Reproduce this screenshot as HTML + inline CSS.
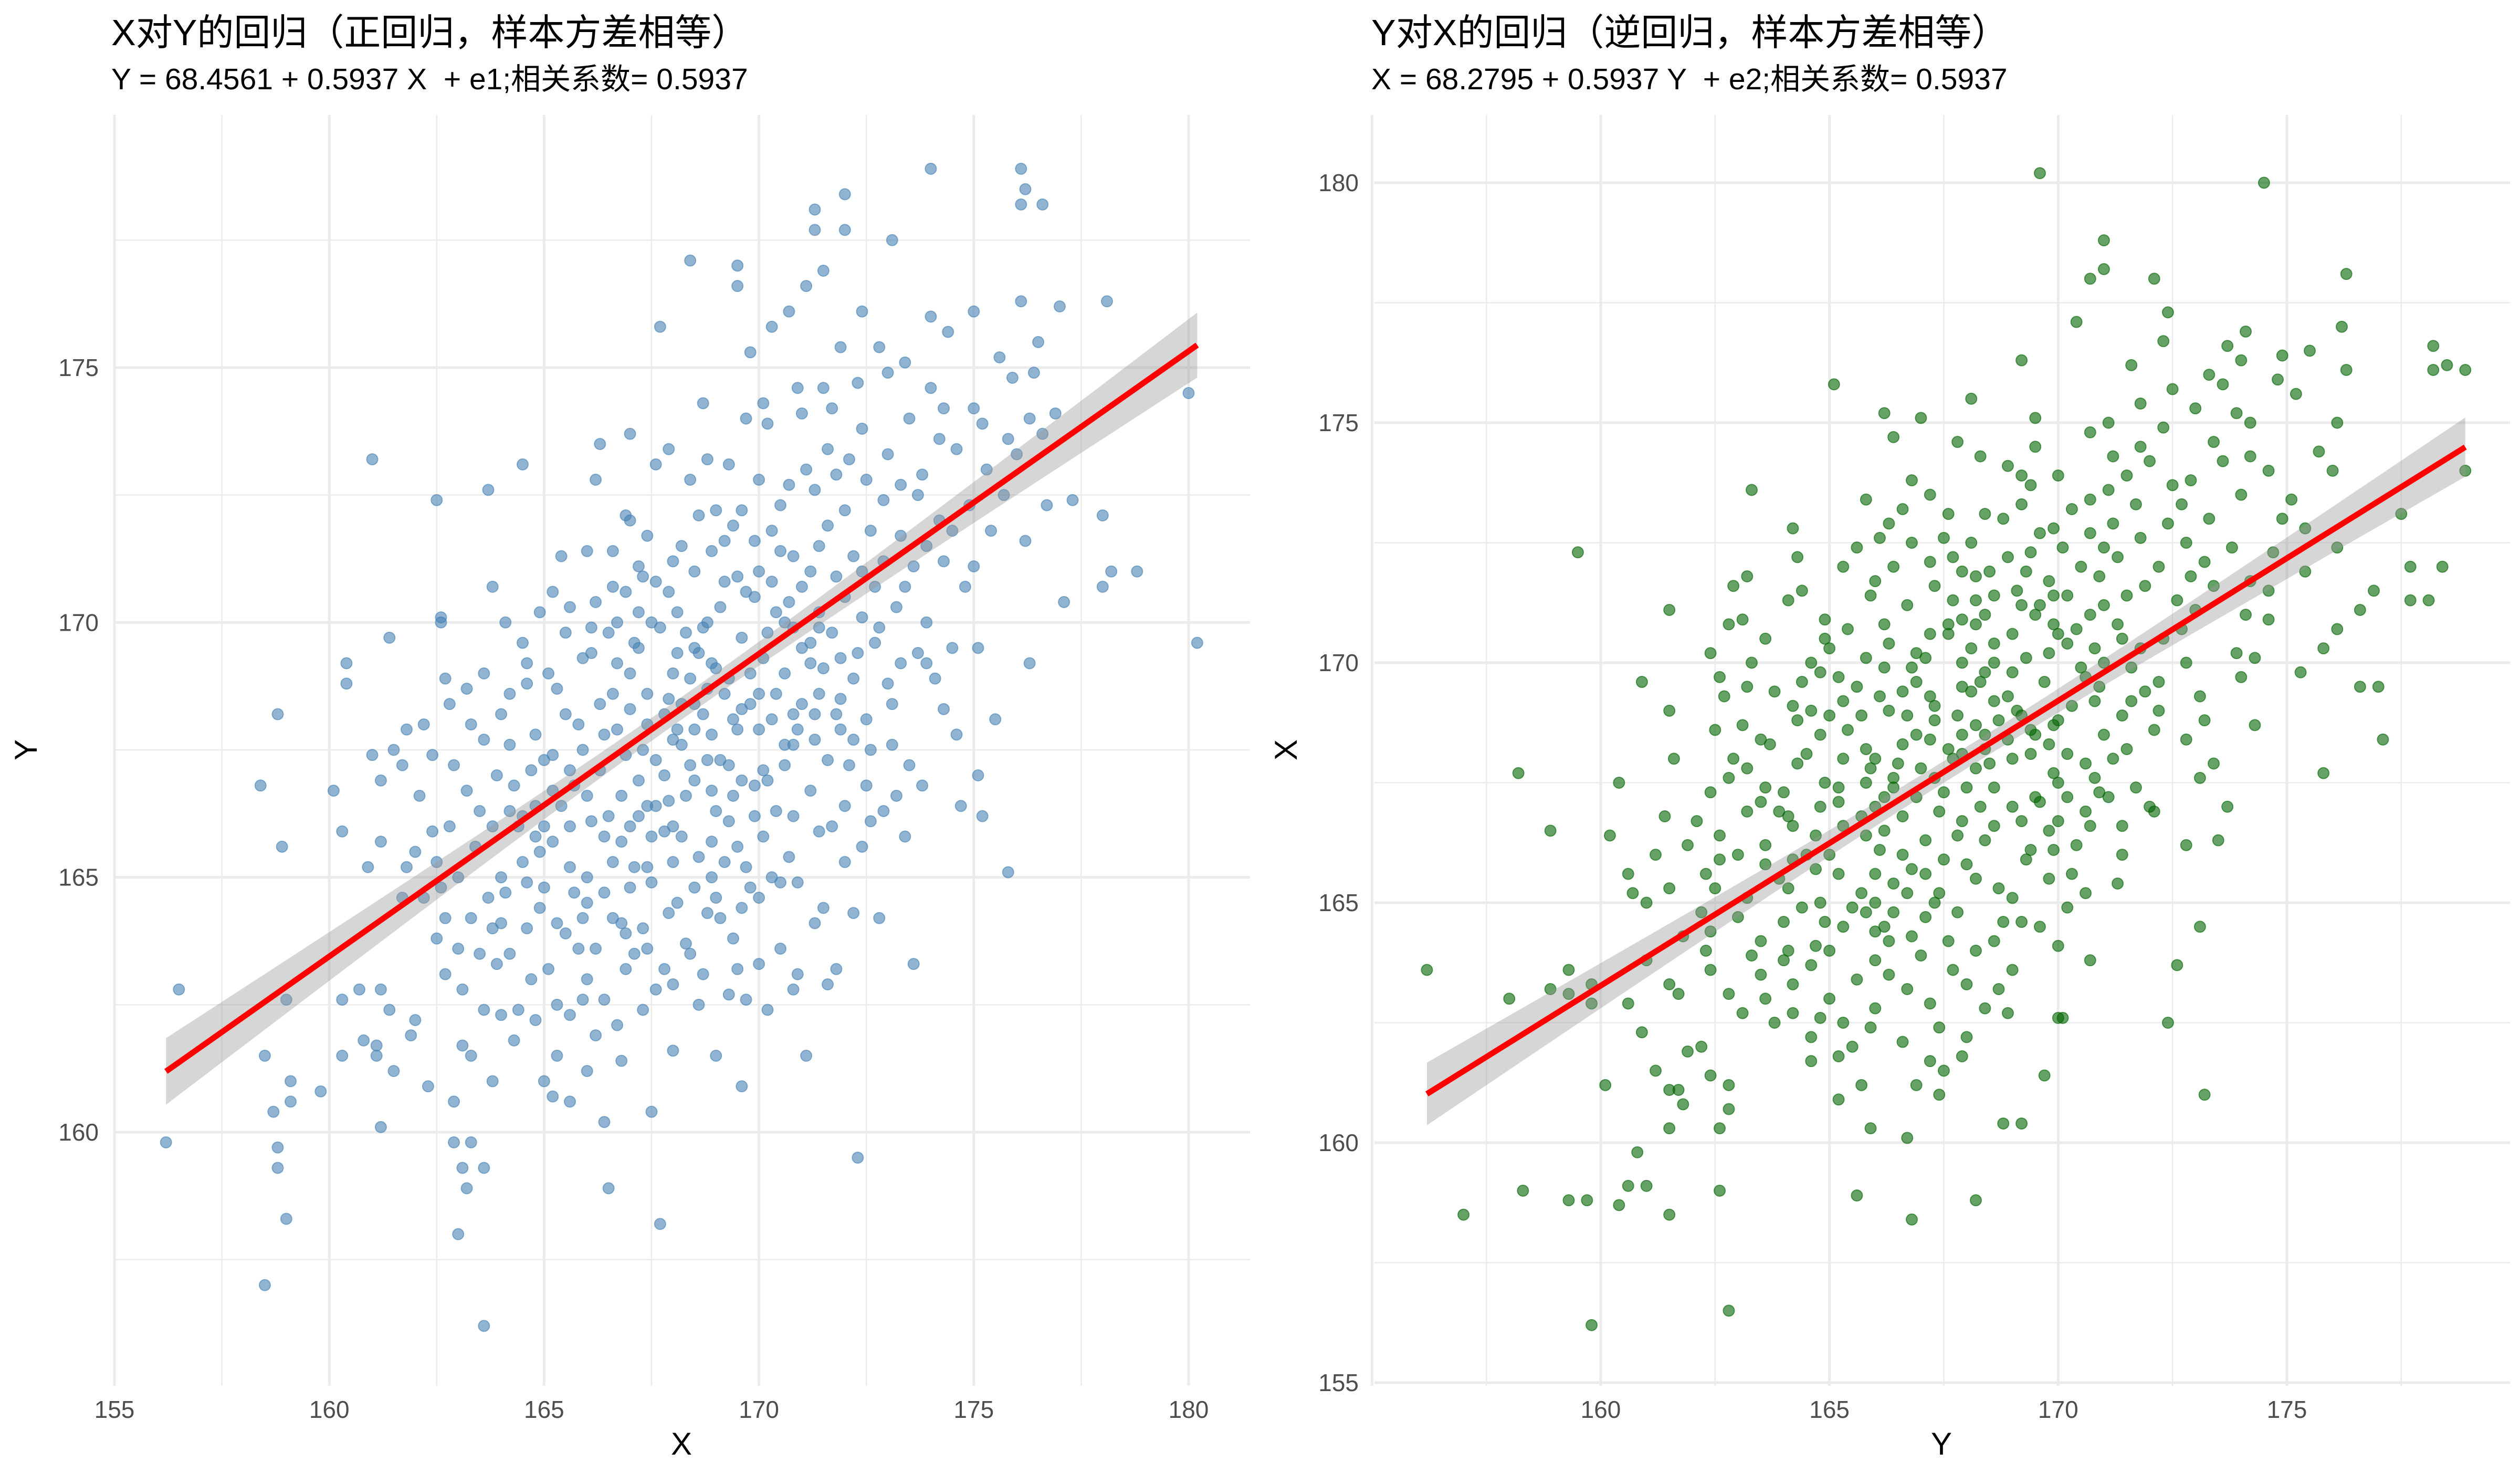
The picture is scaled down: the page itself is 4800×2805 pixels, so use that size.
<!DOCTYPE html>
<html><head><meta charset="utf-8">
<style>
html,body{margin:0;padding:0;background:#fff;}
svg text{font-family:"Liberation Sans","Noto Sans CJK SC",sans-serif;white-space:pre;}
</style></head>
<body>
<svg id="chart" xmlns="http://www.w3.org/2000/svg" width="4800" height="2800" viewBox="0 0 4800 2800">
<rect width="4800" height="2800" fill="#fff"/>
<g id="left"></g>
<g id="right"></g>
<text x="212" y="86" font-size="70" fill="#000">X对Y的回归（正回归，样本方差相等）</text>
<text x="212" y="170" font-size="57" fill="#000" xml:space="preserve">Y = 68.4561 + 0.5937 X  + e1;相关系数= 0.5937</text>
<text x="2612" y="86" font-size="70" fill="#000">Y对X的回归（逆回归，样本方差相等）</text>
<text x="2612" y="170" font-size="57" fill="#000" xml:space="preserve">X = 68.2795 + 0.5937 Y  + e2;相关系数= 0.5937</text>
<text x="1298" y="2770" font-size="60" text-anchor="middle">X</text>
<text transform="translate(70,1428) rotate(-90)" font-size="60" text-anchor="middle">Y</text>
<text x="3698" y="2770" font-size="60" text-anchor="middle">Y</text>
<text transform="translate(2470,1428) rotate(-90)" font-size="60" text-anchor="middle">X</text>
</svg>
<script>
const sample = [
[156.2,159.8],[156.5,162.8],[158.4,166.8],[158.5,157.0],[158.5,161.5],[158.7,160.4],[158.8,159.7],[158.8,159.3],[158.8,168.2],[158.9,165.6],[159.0,158.3],[159.1,160.6],[159.1,161.0],[159.0,162.6],[159.8,160.8],[160.1,166.7],[160.3,161.5],[160.3,162.6],[160.4,169.2],[160.4,168.8],[160.3,165.9],[160.7,162.8],[160.8,161.8],[160.9,165.2],[161.0,173.2],[161.0,167.4],[161.1,161.7],[161.1,161.5],[161.2,162.8],[161.2,160.1],[161.2,165.7],[161.2,166.9],[161.4,169.7],[161.4,162.4],[161.5,167.5],[161.5,161.2],[161.7,167.2],[161.7,164.6],[161.8,167.9],[161.9,161.9],[162.0,165.5],[162.0,162.2],[162.2,168.0],[162.3,160.9],[162.4,165.9],[162.5,163.8],[162.5,172.4],[162.6,170.1],[162.6,170.0],[162.7,168.9],[162.7,163.1],[162.7,164.2],[162.5,165.3],[162.9,159.8],[162.9,160.6],[162.9,167.2],[163.0,163.6],[163.0,158.0],[163.1,159.3],[163.1,161.7],[163.2,166.7],[163.3,161.5],[163.3,168.0],[163.2,158.9],[163.3,159.8],[163.5,163.5],[163.6,167.7],[163.6,159.3],[163.6,156.2],[163.7,172.6],[163.8,170.7],[163.8,161.0],[164.0,164.1],[164.0,162.3],[164.1,170.0],[164.2,166.3],[164.2,168.6],[164.3,161.8],[164.5,169.6],[164.5,173.1],[164.5,166.2],[164.6,168.8],[164.7,163.0],[164.8,165.8],[164.9,165.5],[165.0,167.3],[165.0,164.8],[165.0,161.0],[165.1,169.0],[165.2,167.4],[165.2,160.7],[165.3,164.1],[165.3,162.5],[165.4,171.3],[165.5,168.2],[165.6,167.1],[165.6,162.3],[165.6,160.6],[165.7,166.8],[165.8,168.0],[165.9,164.2],[165.9,162.6],[166.0,165.0],[166.0,163.0],[166.1,169.4],[166.2,172.8],[166.2,161.9],[166.3,168.4],[166.4,164.7],[166.4,160.2],[166.5,166.2],[166.5,158.9],[166.6,168.6],[166.6,170.7],[166.7,167.9],[166.8,164.1],[166.8,161.4],[166.9,172.1],[167.0,169.0],[167.0,166.0],[167.1,163.5],[167.1,165.2],[167.2,171.1],[167.2,169.5],[167.3,167.5],[167.3,164.0],[167.4,168.6],[167.4,166.4],[167.5,170.0],[167.5,160.4],[167.5,164.9],[167.6,162.8],[167.6,173.1],[167.7,158.2],[167.7,175.8],[167.8,165.9],[167.8,167.0],[167.9,168.5],[168.0,161.6],[168.0,166.0],[168.1,170.2],[168.1,164.5],[168.2,168.4],[168.2,171.5],[168.3,166.6],[168.4,163.5],[168.4,172.8],[168.5,167.9],[168.5,169.5],[168.6,165.4],[168.6,162.5],[168.7,168.2],[168.7,174.3],[168.8,170.0],[168.8,173.2],[168.9,166.7],[168.9,165.0],[169.0,161.5],[169.0,169.1],[169.0,172.2],[169.1,167.3],[169.1,164.2],[169.2,170.8],[169.3,166.1],[169.3,168.9],[169.4,163.8],[169.4,171.9],[169.5,165.6],[169.5,167.9],[169.6,160.9],[169.6,169.7],[169.7,174.0],[169.7,162.6],[169.8,168.4],[169.8,175.3],[169.9,166.8],[169.9,170.5],[170.0,164.6],[170.0,171.0],[170.1,167.1],[170.1,169.3],[170.2,162.4],[170.2,173.9],[170.3,175.8],[170.3,168.1],[170.4,166.3],[170.4,170.2],[170.5,164.9],[170.5,172.3],[170.6,167.6],[170.6,169.0],[170.7,176.1],[170.7,165.4],[170.8,168.2],[170.8,171.3],[170.9,163.1],[170.9,167.9],[171.0,170.7],[171.0,174.1],[171.1,161.5],[171.1,176.6],[171.2,169.2],[171.2,166.7],[171.3,172.6],[171.3,164.1],[171.4,168.6],[171.4,170.2],[171.5,176.9],[171.5,174.6],[171.6,167.3],[171.6,171.9],[171.7,169.8],[171.7,166.0],[171.8,163.2],[171.8,172.9],[171.9,175.4],[171.9,168.5],[172.0,170.5],[172.0,165.3],[172.1,173.2],[172.1,167.2],[172.2,171.3],[172.3,169.4],[172.3,159.5],[172.4,176.1],[172.4,173.8],[172.5,166.8],[172.5,168.1],[172.6,171.8],[172.7,170.7],[172.8,164.2],[172.9,172.4],[172.9,166.3],[173.0,174.9],[173.0,168.8],[173.1,167.6],[173.1,177.5],[173.2,170.3],[173.3,172.7],[173.3,169.2],[173.4,175.1],[173.5,167.2],[173.6,171.1],[173.6,163.3],[173.7,172.5],[173.8,166.8],[173.9,170.0],[174.0,176.0],[174.0,174.6],[174.1,168.9],[174.2,172.0],[174.3,171.2],[174.4,175.7],[174.5,169.5],[174.6,167.8],[174.6,173.4],[174.8,170.7],[174.9,172.3],[175.0,176.1],[175.0,174.2],[175.1,169.5],[175.2,166.2],[175.3,173.0],[175.4,171.8],[175.5,168.1],[175.6,175.2],[175.7,172.5],[175.8,165.1],[175.9,174.8],[176.0,173.3],[176.1,176.3],[176.2,171.6],[176.3,169.2],[176.4,174.9],[176.5,175.5],[176.6,173.7],[176.7,172.3],[176.9,174.1],[177.0,176.2],[177.1,170.4],[177.3,172.4],[178.0,170.7],[178.1,176.3],[178.2,171.0],[178.0,172.1],[178.8,171.0],[180.0,174.5],[180.2,169.6],[176.1,178.9],[176.2,178.5],[176.1,178.2],[176.6,178.2],[174.0,178.9],[172.0,178.4],[171.3,178.1],[172.0,177.7],[171.3,177.7],[168.4,177.1],[169.5,177.0],[169.5,176.6],[176.3,174.0],
[166.2,170.4],[166.5,169.8],[166.9,170.6],[167.3,170.9],[167.6,170.8],[167.9,170.6],[168.3,169.8],[168.6,169.4],[168.9,169.2],[167.0,168.3],[167.4,168.0],[167.8,168.2],[168.2,167.6],[168.9,167.8],[169.3,167.2],[169.6,166.9],[170.0,167.9],[170.4,168.6],[170.8,169.9],[171.2,169.6],[171.5,169.1],[171.9,169.3],[172.2,168.9],[171.0,168.4],[170.6,167.2],[169.9,166.2],[168.5,166.9],[168.0,165.3],[167.5,165.8],[167.2,166.9],[166.8,166.6],[166.3,167.1],[165.9,167.5],[165.4,166.4],[165.0,166.0],[164.5,165.3],[164.0,165.0],[163.7,164.6],[163.3,164.2],[163.0,165.0],[164.8,167.8],[165.3,168.7],[165.9,169.3],[166.7,169.2],[167.1,169.6],[168.0,169.0],[168.8,168.7],[169.4,168.1],[169.8,169.0],[170.3,170.8],[170.7,170.4],[171.4,171.5],[171.8,170.9],[172.4,170.1],[172.8,169.9],[173.4,170.7],[169.2,171.6],[169.6,172.2],[170.0,172.8],[168.5,171.0],[168.0,171.2],[167.0,172.0],[166.6,171.4],[166.0,171.4],[165.5,169.8],[164.9,170.2],[164.2,167.6],[163.9,167.0],[163.5,166.3],[162.8,166.0],[166.0,164.5],[166.6,165.3],[167.0,164.8],[168.8,164.3],[169.2,165.3],[170.1,165.8],[170.8,166.2],[171.3,167.7],[171.9,167.9],[172.6,167.5],[173.1,168.4],[168.3,163.7],[167.8,163.2],[166.9,163.2],[166.4,162.6],[165.8,163.6],[165.1,163.2],[164.6,164.0],[164.4,162.4],[163.9,163.3],[170.5,163.6],[171.5,164.4],[172.2,164.3],[169.5,163.2],[169.8,164.8],
[163.4,165.6],[163.8,166.0],[164.3,166.8],[164.7,167.1],[165.2,165.7],[165.6,165.2],[166.1,166.1],[166.4,167.8],[166.9,167.4],[167.6,167.3],[168.1,167.9],[168.4,168.9],[168.7,169.9],[169.1,170.3],[169.5,170.9],[169.9,171.6],[170.3,171.8],[170.7,172.7],[171.1,173.0],[171.6,173.4],[172.0,172.2],[172.5,172.8],[172.9,171.2],[173.3,171.7],[173.8,172.9],[174.2,173.6],[170.2,169.8],[170.6,170.0],[171.0,169.5],[171.4,169.9],[171.8,168.2],[172.2,167.7],[170.0,168.6],[169.6,168.3],[169.2,168.6],[168.8,167.3],[168.4,167.2],[168.0,167.7],[167.6,166.4],[167.2,166.2],[166.8,165.7],[166.4,165.8],[166.0,166.6],[165.6,166.0],[165.2,166.7],[164.8,166.4],[164.4,166.0],[164.1,164.7],[164.9,164.4],[165.5,163.9],[166.2,163.6],[166.9,163.9],[167.4,163.6],[167.9,164.3],[168.5,164.8],[169.0,164.6],[169.7,165.2],[170.3,165.0],[170.9,164.9],[171.4,165.9],[172.0,166.4],[172.6,166.1],[173.2,166.6],[167.2,170.2],[167.7,169.9],[168.1,169.4],[168.5,168.4],[166.7,170.0],[166.1,169.9],[165.6,170.3],[165.2,170.6],[164.6,169.2],[164.0,168.2],[163.6,169.0],[163.2,168.7],[162.8,168.4],[162.4,167.4],[162.1,166.6],[161.8,165.2],[162.2,164.6],[162.6,164.8],[163.1,162.8],[163.6,162.4],[164.2,163.5],[164.8,162.2],[165.3,161.5],[166.0,161.2],[166.7,162.1],[167.3,162.4],[168.0,162.9],[168.7,163.1],[169.3,162.7],[170.0,163.3],[170.8,162.8],[171.6,162.9],[166.3,173.5],[167.0,173.7],[167.9,173.4],[168.6,172.1],[169.3,173.1],[170.1,174.3],[170.9,174.6],[171.7,174.2],[172.3,174.7],[172.8,175.4],[173.5,174.0],[174.3,174.2],[175.2,173.9],[175.8,173.6],[173.9,171.5],[174.5,171.8],[175.0,171.1],[173.7,169.4],[174.3,168.3],[175.1,167.0],[174.7,166.4],[173.4,165.8],[172.4,165.6],[167.4,171.7],[168.9,171.4],[169.7,170.6],[170.5,171.4],[171.2,171.0],[172.4,171.0],[173.0,173.3],[172.7,169.6],[173.9,169.2],[169.0,166.3],[169.4,166.6],[170.2,166.9],[170.8,167.6],[171.3,168.2],[167.9,166.5],[167.4,165.2],[166.6,164.2],[165.7,164.7],[164.6,164.9],[163.8,164.0],[168.2,165.8],[168.9,165.7],[169.6,164.4]
];
const leftCoef = [68.4561, 0.5937];
const rightCoef = [68.2795, 0.5937];
const leftXTicks = [155,160,165,170,175,180];
const leftYTicks = [160,165,170,175];
const rightXTicks = [160,165,170,175];
const rightYTicks = [155,160,165,170,175,180];

const NS = "http://www.w3.org/2000/svg";
function mk(parent, tag, attrs){const e=document.createElementNS(NS,tag);for(const k in attrs)e.setAttribute(k,attrs[k]);parent.appendChild(e);return e;}

function panel(g, cfg){
  const sx=v=>cfg.x0+(v-cfg.xd0)*cfg.xk;
  const sy=v=>cfg.y0-(v-cfg.yd0)*cfg.yk;
  const minorX=[], minorY=[];
  for(let v=cfg.gxStart; v<=cfg.gxEnd+0.01; v+=2.5){minorX.push(v);}
  for(let v=cfg.gyStart; v<=cfg.gyEnd+0.01; v+=2.5){minorY.push(v);}
  minorX.forEach(v=>{const major=Math.abs(v%5)<0.01;const l=mk(g,'line',{x1:sx(v),x2:sx(v),y1:cfg.top,y2:cfg.bottom,stroke:'#ebebeb','stroke-width':major?5:2.5});
    
    });
  minorY.forEach(v=>{const major=Math.abs(v%5)<0.01;const l=mk(g,'line',{x1:cfg.left,x2:cfg.right,y1:sy(v),y2:sy(v),stroke:'#ebebeb','stroke-width':major?5:2.5});
    
    });
  cfg.xTicks.forEach(v=>{const t=mk(g,'text',{x:sx(v),y:2700,'font-size':46,fill:'#4d4d4d','text-anchor':'middle'});t.textContent=v;
    
    });
  cfg.yTicks.forEach(v=>{const t=mk(g,'text',{x:cfg.left-30,y:sy(v)+16,'font-size':46,fill:'#4d4d4d','text-anchor':'end'});t.textContent=v;
    
    });
  const hs=sample.map(p=>p[cfg.hi]), vs=sample.map(p=>p[cfg.vi]);
  const pg=mk(g,'g',{});
  
  
  hs.forEach((h,i)=>{const c=mk(pg,'circle',{cx:sx(h),cy:sy(vs[i]),r:10.5,fill:cfg.color,'fill-opacity':0.6,stroke:cfg.color,'stroke-opacity':0.6,'stroke-width':2});
    
    });
  const n=hs.length, mh=hs.reduce((a,b)=>a+b,0)/n;
  const sxx=hs.reduce((a,b)=>a+(b-mh)*(b-mh),0);
  let rss=0; hs.forEach((h,i)=>{const r=vs[i]-(cfg.coef[0]+cfg.coef[1]*h);rss+=r*r;});
  const s=Math.sqrt(rss/(n-2));
  const scale=Math.sqrt(n/1000);
  const hmin=Math.min(...hs), hmax=Math.max(...hs);
  const up=[],dn=[];
  for(let k=0;k<=60;k++){const h=hmin+(hmax-hmin)*k/60;const f=cfg.coef[0]+cfg.coef[1]*h;
    const se=s*Math.sqrt(1/n+(h-mh)*(h-mh)/sxx)*scale*1.96;
    up.push(sx(h)+','+sy(f+se)); dn.unshift(sx(h)+','+sy(f-se));}
  const band=mk(g,'polygon',{points:up.concat(dn).join(' '),fill:'#999999','fill-opacity':0.4});
  
  
  const ln=mk(g,'line',{x1:sx(hmin),y1:sy(cfg.coef[0]+cfg.coef[1]*hmin),x2:sx(hmax),y2:sy(cfg.coef[0]+cfg.coef[1]*hmax),stroke:'#ff0000','stroke-width':11});
  
  
}
panel(document.getElementById('left'),{x0:218,xd0:155,xk:81.84,y0:2156,yd0:160,yk:97.07,
  left:218,right:2381,top:219,bottom:2639,gxStart:155,gxEnd:180,gyStart:157.5,gyEnd:177.5,
  xTicks:leftXTicks,yTicks:leftYTicks,hi:0,vi:1,color:'#4682b4',coef:leftCoef});
panel(document.getElementById('right'),{x0:3049,xd0:160,xk:87.13,y0:2633,yd0:155,yk:91.4,
  left:2618,right:4781,top:219,bottom:2639,gxStart:155,gxEnd:177.5,gyStart:155,gyEnd:180,
  xTicks:rightXTicks,yTicks:rightYTicks,hi:1,vi:0,color:'#006400',coef:rightCoef});
</script>
</body></html>
